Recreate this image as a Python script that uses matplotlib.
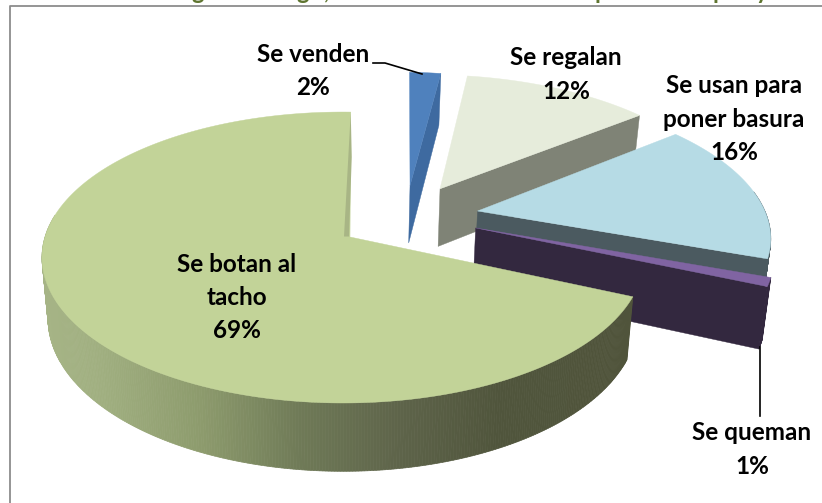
import numpy as np
import matplotlib
matplotlib.use("Agg")
import matplotlib.pyplot as plt
from matplotlib.colors import to_rgb
from matplotlib.patches import Polygon

plt.rcParams["font.family"] = ["Lato", "DejaVu Sans"]

# data, clockwise from the top of the pie
categories = ["Se venden", "Se regalan", "Se usan para\nponer basura", "Se queman", "Se botan al\ntacho"]
percents = [2, 12, 16, 1, 69]

# how each slice is pulled out of the pie, in disk units
explode_u = [0.237, 0.342, 0.453, 0.439, 0.0]
explode_v = [-0.38, -0.355, -0.187, -0.064, 0.0]
apex_shift = [0, 0, 3, 3, 7]
top_colors = ["#4f81bd", "#e6ecdb", "#b6dbe5", "#8064a2", "#c2d398"]
wall_colors = ["#3e6aa0", "#7f8376", "#4b5a60", "#33283f", "#a8b585"]

# gradient of the big slice's rim, by pixel x
big_rim_x = [42, 100, 200, 300, 400, 500, 640]
big_rim_c = ["#a6b486", "#a0af80", "#8d9b6d", "#6f7a57", "#5e644a", "#50553c", "#50543b"]
rim_colors = [None, "#7f8376", "#4b5a60", "#33283f", None]

# perspective of the pie, pixels
CX, CY = 343, 237
A, B, K = 298, 142.6, 0.141
DEPTH, SX, SY = 60, 0.98, 1.05
START = 1.7


def project(u, v):
    d = 1 - K * v
    return CX + A * u / d, CY + B * v / d


def lower(x, y):
    return CX + SX * (x - CX), CY + DEPTH + SY * (y - CY)


def big_color(x):
    rgb = np.array([to_rgb(c) for c in big_rim_c])
    return [np.interp(x, big_rim_x, rgb[:, i]) for i in range(3)]


fig = plt.figure(figsize=(8.22, 5.03), dpi=100)
ax = fig.add_axes([0, 0, 1, 1])
ax.set_xlim(0, 822)
ax.set_ylim(503, 0)
ax.axis("off")

# frame, only left and top are inside the picture
ax.plot([10, 10, 822], [503, 5.5, 5.5], color="#8c8c8c", lw=1.3, zorder=1)

# bottom of the cropped title
for ch, x in zip(["g", "g", ",", "p", "p", "y"], [198, 303, 327, 601, 719, 762]):
    ax.text(x, -1.5, ch, color="#5f7530", fontsize=17, fontweight="bold", ha="center", va="baseline", zorder=1)

angle = START
z = 2
for i, pct in enumerate(percents):
    sweep = pct * 3.6
    th = np.radians(np.linspace(angle, angle + sweep, max(int(sweep * 2), 2) + 1))
    angle += sweep
    xs, ys = project(np.sin(th) + explode_u[i], -np.cos(th) + explode_v[i])
    ax_, ay_ = project(explode_u[i], explode_v[i])
    ax_ += apex_shift[i]
    bx, by = lower(xs, ys)
    abx, aby = lower(ax_, ay_)

    if i < 4:
        ax.add_patch(Polygon([(xs[-1], ys[-1]), (ax_, ay_), (abx, aby), (bx[-1], by[-1])],
                             fc=wall_colors[i], ec=wall_colors[i], lw=0.3, zorder=z))
    if i > 0:
        for j in range(len(xs) - 1):
            # the back of the rim can't be seen
            if -np.cos(th[j]) < -0.15:
                continue
            c = big_color(0.5 * (xs[j] + xs[j + 1])) if i == 4 else rim_colors[i]
            ax.add_patch(Polygon([(xs[j], ys[j]), (xs[j + 1], ys[j + 1]), (bx[j + 1], by[j + 1]), (bx[j], by[j])],
                                 fc=c, ec=c, lw=0.5, zorder=z))
    ax.add_patch(Polygon(np.vstack([[ax_, ay_], np.column_stack([xs, ys])]),
                         fc=top_colors[i], ec=top_colors[i], lw=0.3, zorder=z + 0.5))
    if i == 4:
        # thin wall seen along the top edge of the big slice
        ax.add_patch(Polygon([(xs[-1], ys[-1]), (ax_ - 6, ay_ - 0.5), (ax_ - 1, ay_ - 0.5), (xs[-1] + 1, ys[-1] + 45)],
                             fc=wall_colors[i], ec="none", zorder=z + 0.6))
    z += 1

# leader lines
ax.plot([373, 385, 422], [63, 63, 74], color="black", lw=1.2, zorder=9)
ax.plot([760, 760], [347, 416], color="black", lw=1.2, zorder=9)

# labels
label_x = [313, 566, 734, 752, 237]
label_y = [71, 74.5, 119, 449.5, 297.5]
for name, pct, x, y in zip(categories, percents, label_x, label_y):
    ax.text(x, y, f"{name}\n{pct}%", color="black", fontsize=17.5, fontweight="bold",
            ha="center", va="center", linespacing=1.55, zorder=10)

fig.savefig("out.png", dpi=100)
